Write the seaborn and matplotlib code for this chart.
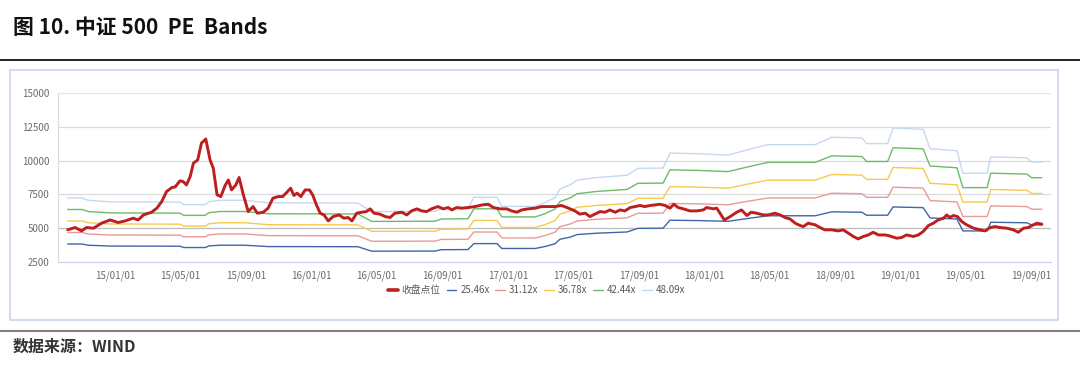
"""CSI 500 PE Bands chart, redrawn with seaborn."""

import matplotlib
matplotlib.use("Agg")
import matplotlib.pyplot as plt
import matplotlib.dates as mdates
from matplotlib.lines import Line2D
from matplotlib.patches import Rectangle
import pandas as pd
import seaborn as sns

# index close (收盘点位)
close_dates = [
    "2014-10-04", "2014-10-18", "2014-10-30", "2014-11-08", "2014-11-21", "2014-12-06", "2014-12-22",
    "2015-01-06", "2015-01-19", "2015-02-03", "2015-02-12", "2015-02-22", "2015-03-09", "2015-03-19",
    "2015-03-28", "2015-04-06", "2015-04-16", "2015-04-22", "2015-05-01", "2015-05-07", "2015-05-13",
    "2015-05-20", "2015-05-26", "2015-06-03", "2015-06-10", "2015-06-18", "2015-06-26", "2015-07-02",
    "2015-07-09", "2015-07-16", "2015-07-24", "2015-07-30", "2015-08-05", "2015-08-13", "2015-08-19",
    "2015-08-27", "2015-09-05", "2015-09-14", "2015-09-22", "2015-10-03", "2015-10-12", "2015-10-21",
    "2015-10-31", "2015-11-08", "2015-11-16", "2015-11-23", "2015-11-29", "2015-12-05", "2015-12-12",
    "2015-12-20", "2015-12-28",
    "2016-01-03", "2016-01-10", "2016-01-17", "2016-01-24", "2016-02-01", "2016-02-10", "2016-02-21",
    "2016-03-01", "2016-03-09", "2016-03-16", "2016-03-25", "2016-04-03", "2016-04-12", "2016-04-19",
    "2016-04-26", "2016-05-07", "2016-05-17", "2016-05-26", "2016-06-04", "2016-06-17", "2016-06-26",
    "2016-07-05", "2016-07-15", "2016-07-24", "2016-08-02", "2016-08-11", "2016-08-23", "2016-09-02",
    "2016-09-11", "2016-09-18", "2016-09-27", "2016-10-06", "2016-10-19", "2016-10-31", "2016-11-13",
    "2016-11-25", "2016-12-04", "2016-12-17", "2016-12-29",
    "2017-01-07", "2017-01-17", "2017-01-26", "2017-02-07", "2017-02-20", "2017-03-04", "2017-03-17",
    "2017-03-29", "2017-04-10", "2017-04-20", "2017-04-26", "2017-05-05", "2017-05-14", "2017-05-24",
    "2017-06-02", "2017-06-11", "2017-06-21", "2017-06-30", "2017-07-09", "2017-07-19", "2017-07-28",
    "2017-08-06", "2017-08-16", "2017-08-25", "2017-09-03", "2017-09-12", "2017-09-22", "2017-10-01",
    "2017-10-10", "2017-10-20", "2017-10-29", "2017-11-05", "2017-11-13", "2017-11-23", "2017-12-05",
    "2017-12-18", "2017-12-30",
    "2018-01-05", "2018-01-18", "2018-01-24", "2018-01-30", "2018-02-07", "2018-02-18", "2018-03-02",
    "2018-03-11", "2018-03-21", "2018-03-29", "2018-04-08", "2018-04-21", "2018-04-30", "2018-05-12",
    "2018-05-22", "2018-05-31", "2018-06-09", "2018-06-19", "2018-06-28", "2018-07-04", "2018-07-13",
    "2018-07-26", "2018-08-04", "2018-08-13", "2018-08-26", "2018-09-07", "2018-09-16", "2018-09-26",
    "2018-10-05", "2018-10-14", "2018-10-24", "2018-11-02", "2018-11-11", "2018-11-21", "2018-12-03",
    "2018-12-09", "2018-12-25",
    "2019-01-03", "2019-01-12", "2019-01-25", "2019-02-03", "2019-02-12", "2019-02-22", "2019-03-03",
    "2019-03-12", "2019-03-22", "2019-03-28", "2019-04-03", "2019-04-09", "2019-04-17", "2019-04-25",
    "2019-05-04", "2019-05-17", "2019-05-29", "2019-06-07", "2019-06-17", "2019-06-26", "2019-07-05",
    "2019-07-18", "2019-07-30", "2019-08-08", "2019-08-18", "2019-08-27", "2019-09-05", "2019-09-12",
    "2019-09-21",
]
close_values = [
    4880, 5050, 4800, 5050, 5000, 5370, 5610,
    5420, 5540, 5740, 5610, 5980, 6180, 6480,
    6970, 7710, 8010, 8050, 8500, 8450, 8200,
    8820, 9810, 10050, 11290, 11600, 10050, 9440,
    7470, 7340, 8160, 8570, 7830, 8200, 8750,
    7460, 6230, 6600, 6110, 6180, 6480, 7220,
    7340, 7340, 7660, 7960, 7420, 7590, 7340,
    7830, 7830,
    7460, 6720, 6110, 5980, 5540, 5860, 5980,
    5740, 5790, 5540, 6110, 6180, 6230, 6430,
    6110, 6040, 5860, 5790, 6110, 6180, 5980,
    6280, 6430, 6280, 6230, 6430, 6600, 6430,
    6530, 6350, 6530, 6480, 6530, 6600, 6720,
    6770, 6530, 6430, 6430,
    6280, 6180, 6350, 6430, 6480, 6600, 6600,
    6600, 6680, 6530, 6430, 6280, 6040, 6110,
    5860, 6040, 6230, 6180, 6350, 6180, 6350,
    6280, 6530, 6600, 6680, 6600, 6680, 6720,
    6770, 6680, 6480, 6770, 6530, 6430, 6280,
    6280, 6350,
    6530, 6430, 6480, 6110, 5610, 5860, 6180,
    6350, 5940, 6180, 6110, 5980, 5980, 6110,
    5980, 5790, 5690, 5370, 5200, 5120, 5370,
    5250, 5050, 4880, 4880, 4800, 4880, 4630,
    4390, 4210, 4390, 4500, 4700, 4500, 4500,
    4460, 4260,
    4310, 4500, 4390, 4500, 4750, 5200, 5370,
    5610, 5740, 5980, 5790, 5940, 5860, 5490,
    5250, 5000, 4880, 4800, 5050, 5120, 5050,
    5000, 4880, 4700, 5000, 5050, 5250, 5370,
    5300,
]

# earnings per index point (step series); band value = pe multiple * eps
band_dates = [
    "2014-10-04", "2014-10-31", "2014-11-11", "2014-12-22", "2015-05-01", "2015-05-08", "2015-06-17",
    "2015-06-24", "2015-07-14", "2015-08-30", "2015-10-12", "2016-03-27", "2016-04-22", "2016-08-18",
    "2016-08-29", "2016-10-18", "2016-10-29", "2016-12-11", "2016-12-20", "2017-02-20", "2017-03-10",
    "2017-03-29", "2017-04-07", "2017-04-26", "2017-05-09", "2017-06-15", "2017-08-10", "2017-08-30",
    "2017-10-16", "2017-10-29", "2017-12-24", "2018-02-14", "2018-03-23", "2018-04-29", "2018-07-26",
    "2018-08-26", "2018-10-21", "2018-10-30", "2018-12-08", "2018-12-18", "2019-02-12", "2019-02-25",
    "2019-04-16", "2019-04-27", "2019-06-11", "2019-06-18", "2019-08-24", "2019-09-02", "2019-09-21",
]
eps = [
    150.4, 150.4, 146.9, 144.5, 144.1, 140.2, 140.2,
    144.9, 146.9, 146.9, 143.0, 142.6, 129.6, 130.0,
    133.9, 134.3, 151.6, 151.6, 137.5, 137.5, 143.0,
    151.2, 164.2, 170.5, 177.9, 181.9, 185.4, 196.0,
    196.4, 219.6, 218.4, 216.4, 224.7, 232.5, 232.5,
    243.9, 242.7, 234.1, 234.1, 258.1, 256.1, 226.2,
    223.1, 188.5, 188.5, 213.7, 212.1, 205.8, 205.8,
]

pe_multiples = [25.46, 31.12, 36.78, 42.44, 48.09]
band_labels = ["25.46x", "31.12x", "36.78x", "42.44x", "48.09x"]
band_colors = ["#3f66a8", "#e99a99", "#f7c94c", "#6dbb6a", "#c6d8f0"]
close_label = "收盘点位"
close_color = "#bd1e1e"

y_ticks = [2500, 5000, 7500, 10000, 12500, 15000]

# build data frames
close_df = pd.DataFrame({"date": pd.to_datetime(close_dates), "value": close_values})

band_frames = []
for pe, lab in zip(pe_multiples, band_labels):
    band_frames.append(pd.DataFrame({
        "date": pd.to_datetime(band_dates),
        "value": [pe * e for e in eps],
        "band": lab,
    }))
bands_df = pd.concat(band_frames, ignore_index=True)

sns.set_theme(style="white")
plt.rcParams["font.family"] = ["Noto Sans CJK SC", "DejaVu Sans"]

W, H = 1080, 365
fig = plt.figure(figsize=(W / 100, H / 100), dpi=100)
ax = fig.add_axes([58 / W, 1 - 262 / H, (1051 - 58) / W, (262 - 93) / H])

sns.lineplot(data=bands_df, x="date", y="value", hue="band",
             palette=dict(zip(band_labels, band_colors)), linewidth=1,
             ax=ax, estimator=None)
sns.lineplot(data=close_df, x="date", y="value", color=close_color,
             linewidth=2.1, label=close_label, ax=ax, estimator=None)

ax.set_xlim(pd.Timestamp("2014-09-16"), pd.Timestamp("2019-10-08"))
ax.set_ylim(2500, 15000)
ax.set_yticks(y_ticks)
ax.set_yticklabels([str(v) for v in y_ticks])
ax.xaxis.set_major_locator(mdates.MonthLocator(bymonth=[1, 5, 9]))
ax.xaxis.set_major_formatter(mdates.DateFormatter("%y/%m/%d"))
ax.set_xlabel("")
ax.set_ylabel("")

# grid and axis styling
for v in y_ticks[1:]:
    if v == 15000:
        ax.axhline(v, color="#e3e3e3", lw=1.6, zorder=0)
    elif v == 5000:
        ax.axhline(v, color="#bdbdbd", lw=0.9, zorder=0)
    else:
        ax.axhline(v, color="#dadada", lw=0.9, zorder=0)
for side in ["top", "right"]:
    ax.spines[side].set_visible(False)
ax.spines["left"].set_color("#d5dde8")
ax.spines["bottom"].set_color("#c9d5e6")
ax.spines["left"].set_linewidth(0.9)
ax.spines["bottom"].set_linewidth(0.9)
ax.tick_params(axis="x", colors="#c9d5e6", labelcolor="#6b6b6b", labelsize=7,
               length=4, width=0.8, direction="out", pad=2)
ax.tick_params(axis="y", labelcolor="#6b6b6b", labelsize=7, length=0, pad=6)

# legend: close first, then the bands
handles, labels = ax.get_legend_handles_labels()
order = [labels.index(close_label)] + [labels.index(l) for l in band_labels]
ax.get_legend().remove()
leg = fig.legend([handles[i] for i in order], [labels[i] for i in order],
                 loc="center", bbox_to_anchor=(0.497, 1 - 290 / H), ncol=6,
                 frameon=False, fontsize=7, handlelength=1.0, handletextpad=0.4,
                 columnspacing=0.6)
for t in leg.get_texts():
    t.set_color("#595959")
leg.legend_handles[0].set_linewidth(2.6)

# page decorations
fig.text(13 / W, 1 - 28 / H, "图 10. 中证 500  PE  Bands", fontsize=15,
         fontweight="bold", va="center", ha="left", color="#111111")
fig.add_artist(Line2D([0, 1], [1 - 59.5 / H] * 2, color="black", lw=1.2))
fig.add_artist(Rectangle((10 / W, 1 - 320 / H), (1058 - 10) / W, (320 - 70) / H,
                         fill=False, edgecolor="#c8d7ec", lw=1.2))
fig.add_artist(Line2D([0, 1], [1 - 330.5 / H] * 2, color="#808080", lw=1.5))
fig.text(13 / W, 1 - 347 / H, "数据来源：WIND", fontsize=11.5, style="italic",
         fontweight="bold", va="center", ha="left", color="#333333")

fig.savefig("out.png", dpi=100)
